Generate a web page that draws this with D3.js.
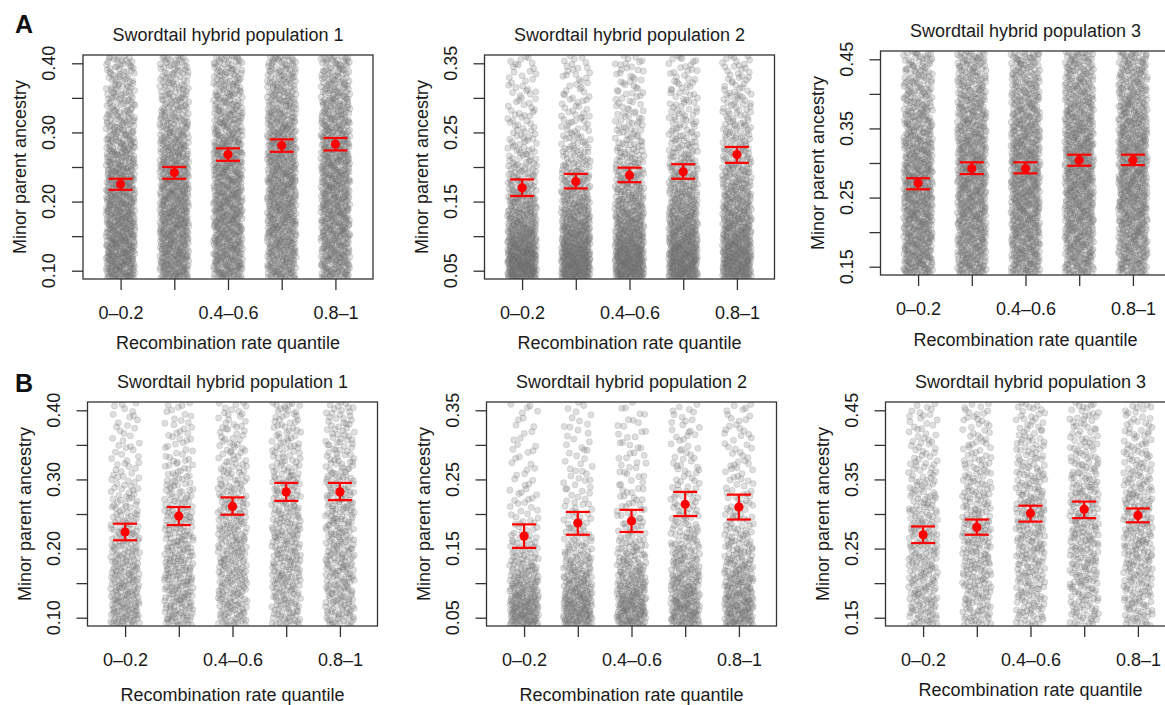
<!DOCTYPE html>
<html>
<head>
<meta charset="utf-8">
<script src="https://cdn.jsdelivr.net/npm/d3@7"></script>
<style>
  html, body { margin: 0; padding: 0; background: #fff; }
  svg { display: block; font-family: "Liberation Sans", Arial, Helvetica, sans-serif; }
</style>
</head>
<body>
<svg id="chart" width="1165" height="705"></svg>
<script>
// ---------------- data ----------------
const categories = ["0–0.2", "0.2–0.4", "0.4–0.6", "0.6–0.8", "0.8–1"];
const shownTickLabels = ["0–0.2", "0.4–0.6", "0.8–1"];
const panelTitles = ["Swordtail hybrid population 1", "Swordtail hybrid population 2", "Swordtail hybrid population 3"];
const rowLetters = ["A", "B"];
const xAxisTitle = "Recombination rate quantile";
const yAxisTitle = "Minor parent ancestry";

// y ticks per population
const yTicksPop1 = [0.10, 0.15, 0.20, 0.25, 0.30, 0.35, 0.40];
const yTicksPop2 = [0.05, 0.10, 0.15, 0.20, 0.25, 0.30, 0.35];
const yTicksPop3 = [0.15, 0.20, 0.25, 0.30, 0.35, 0.40, 0.45];
const yLabelsPop1 = ["0.10", "0.20", "0.30", "0.40"];
const yLabelsPop2 = ["0.05", "0.15", "0.25", "0.35"];
const yLabelsPop3 = ["0.15", "0.25", "0.35", "0.45"];

// means and error bar limits (red)
const meanA1 = [0.225, 0.242, 0.268, 0.281, 0.283];
const lowA1  = [0.217, 0.233, 0.259, 0.272, 0.274];
const highA1 = [0.233, 0.250, 0.277, 0.290, 0.292];
const meanA2 = [0.170, 0.179, 0.188, 0.193, 0.218];
const lowA2  = [0.158, 0.169, 0.178, 0.183, 0.206];
const highA2 = [0.182, 0.190, 0.199, 0.204, 0.229];
const meanA3 = [0.271, 0.292, 0.292, 0.304, 0.304];
const lowA3  = [0.262, 0.284, 0.285, 0.296, 0.297];
const highA3 = [0.278, 0.301, 0.301, 0.312, 0.312];
const meanB1 = [0.224, 0.247, 0.261, 0.282, 0.282];
const lowB1  = [0.212, 0.234, 0.249, 0.269, 0.270];
const highB1 = [0.236, 0.260, 0.274, 0.295, 0.295];
const meanB2 = [0.168, 0.187, 0.190, 0.214, 0.210];
const lowB2  = [0.151, 0.170, 0.174, 0.197, 0.192];
const highB2 = [0.185, 0.203, 0.206, 0.232, 0.228];
const meanB3 = [0.270, 0.281, 0.301, 0.307, 0.298];
const lowB3  = [0.258, 0.270, 0.289, 0.294, 0.288];
const highB3 = [0.282, 0.292, 0.312, 0.318, 0.308];

// density of grey points: approx. counts per category in 6 equal y-bins of the plotted range (bottom -> top)
const densityA1 = [[165,155,135,105,72,58],[150,150,135,112,78,62],[138,142,135,118,90,70],[125,135,135,125,98,76],[125,132,135,125,100,76]];
const densityA2 = [[235,140,78,42,28,22],[228,145,84,48,30,24],[220,145,88,52,34,27],[212,145,92,56,38,28],[200,140,98,62,45,31]];
const densityA3 = [[128,135,135,112,85,64],[120,128,135,120,98,78],[120,128,135,120,98,78],[112,125,135,128,105,84],[112,125,135,128,105,84]];
const densityB1 = [[90,75,55,35,20,15],[75,75,60,45,28,20],[70,70,65,50,35,28],[65,70,65,55,40,35],[65,70,65,55,40,35]];
const densityB2 = [[140,72,30,18,14,12],[135,76,35,22,16,14],[132,80,38,24,18,15],[122,80,45,30,22,18],[122,80,45,28,22,18]];
const densityB3 = [[60,60,55,45,30,22],[55,60,60,50,32,25],[50,58,62,55,40,30],[50,58,62,55,42,32],[52,60,62,55,38,28]];

// ---------------- layout ----------------
const panels = [
  {row:0, col:0, left:83,    top:55,  ticks:yTicksPop1, labels:yLabelsPop1, mean:meanA1, low:lowA1, high:highA1, dens:densityA1, xlabDy:64},
  {row:0, col:1, left:484.5, top:55,  ticks:yTicksPop2, labels:yLabelsPop2, mean:meanA2, low:lowA2, high:highA2, dens:densityA2, xlabDy:64},
  {row:0, col:2, left:880.5, top:51,  ticks:yTicksPop3, labels:yLabelsPop3, mean:meanA3, low:lowA3, high:highA3, dens:densityA3, xlabDy:65},
  {row:1, col:0, left:87.5,  top:402, ticks:yTicksPop1, labels:yLabelsPop1, mean:meanB1, low:lowB1, high:highB1, dens:densityB1, xlabDy:69},
  {row:1, col:1, left:486.5, top:402, ticks:yTicksPop2, labels:yLabelsPop2, mean:meanB2, low:lowB2, high:highB2, dens:densityB2, xlabDy:69},
  {row:1, col:2, left:885.5, top:402, ticks:yTicksPop3, labels:yLabelsPop3, mean:meanB3, low:lowB3, high:highB3, dens:densityB3, xlabDy:64}
];
const W = 290, H = 224;
const svg = d3.select("#chart");
const fontSize = 18;

// quasi-uniform (Halton) layout helper for the jitter (positions only, not data)
function vdc(n, base) { let q = 0, bk = 1 / base; while (n > 0) { q += (n % base) * bk; n = Math.floor(n / base); bk /= base; } return q; }

panels.forEach((p, pi) => {
  const lo = d3.min(p.ticks), hi = d3.max(p.ticks);
  const pad = (hi - lo) * 0.04;
  const x = d3.scaleLinear().domain([0.3, 5.7]).range([0, W]);
  const y = d3.scaleLinear().domain([lo - pad, hi + pad]).range([H, 0]);
  const g = svg.append("g").attr("transform", `translate(${p.left},${p.top})`);

  const clipId = "clip" + pi;
  g.append("clipPath").attr("id", clipId).append("rect").attr("width", W).attr("height", H);

  // grey jittered points, distributed following the bin counts (smoothed profile)
  const pts = [];
  const [d0, d1] = y.domain();
  p.dens.forEach((counts, ci) => {
    const nb = counts.length, N = d3.sum(counts);
    const steps = nb * 20;
    const dAt = t => { // piecewise-linear density through bin centres
      const c = t - 0.5; const i0 = Math.max(0, Math.min(nb - 1, Math.floor(c))); const i1 = Math.min(nb - 1, i0 + 1);
      const f = Math.max(0, Math.min(1, c - i0)); return counts[i0] * (1 - f) + counts[i1] * f;
    };
    const cdf = [0];
    for (let k = 1; k <= steps; k++) cdf.push(cdf[k - 1] + dAt((k - 0.5) * nb / steps));
    const tot = cdf[steps];
    const inv = v => { const target = v * tot; let k = d3.bisectLeft(cdf, target); k = Math.max(1, Math.min(steps, k));
      const f = (target - cdf[k - 1]) / (cdf[k] - cdf[k - 1] || 1); return ((k - 1 + f) / steps) * nb; };
    const off = 20 + pi * 409 + ci * 137;
    for (let i = 0; i < N; i++) {
      const u = vdc(i + off, 3);
      const v = vdc(i + off, 2);
      pts.push({xv: ci + 1 + (u * 2 - 1) * 0.27, yv: d0 + inv(v) * (d1 - d0) / nb});
    }
  });
  g.append("g").attr("clip-path", `url(#${clipId})`)
    .selectAll("circle").data(pts).join("circle")
    .attr("cx", d => x(d.xv)).attr("cy", d => y(d.yv)).attr("r", 3.1)
    .attr("fill", "rgba(105,105,105,0.22)")
    .attr("stroke", "rgba(105,105,105,0.22)").attr("stroke-width", 0.8);

  // box
  g.append("rect").attr("width", W).attr("height", H)
    .attr("fill", "none").attr("stroke", "#333").attr("stroke-width", 1.3);

  // axes
  const xAxis = d3.axisBottom(x).tickValues([1, 2, 3, 4, 5])
    .tickSize(11).tickPadding(16)
    .tickFormat(d => shownTickLabels.includes(categories[d - 1]) ? categories[d - 1] : "");
  const xa = g.append("g").attr("transform", `translate(0,${H})`).call(xAxis);
  const yAxis = d3.axisLeft(y).tickValues(p.ticks).tickSize(11).tickFormat("");
  const ya = g.append("g").call(yAxis);
  [xa, ya].forEach(a => {
    a.select(".domain").remove();
    a.selectAll(".tick line").attr("stroke", "#333").attr("stroke-width", 1.3);
  });
  xa.selectAll(".tick text").attr("font-size", fontSize).attr("fill", "#1a1a1a")
    .attr("font-family", "Liberation Sans, Arial, sans-serif");

  // rotated y tick labels
  g.selectAll(".ylab").data(p.labels).join("text")
    .attr("transform", d => `translate(-34,${y(+d)}) rotate(-90)`)
    .attr("text-anchor", "middle").attr("dy", "0.36em")
    .attr("font-size", fontSize).attr("fill", "#1a1a1a").text(d => d);

  // axis titles
  g.append("text").attr("transform", `translate(-63,${H / 2}) rotate(-90)`)
    .attr("text-anchor", "middle").attr("dy", "0.36em")
    .attr("font-size", fontSize).attr("fill", "#1a1a1a").text(yAxisTitle);
  g.append("text").attr("x", W / 2).attr("y", H + p.xlabDy).attr("dy", "0.36em")
    .attr("text-anchor", "middle").attr("font-size", fontSize).attr("fill", "#1a1a1a").text(xAxisTitle);
  g.append("text").attr("x", W / 2).attr("y", -20).attr("dy", "0.36em")
    .attr("text-anchor", "middle").attr("font-size", fontSize).attr("fill", "#1a1a1a").text(panelTitles[p.col]);

  // means with error bars
  const cap = 12;
  const eb = g.append("g").attr("stroke", "#ff0000").attr("stroke-width", 2.2);
  p.mean.forEach((m, ci) => {
    const cx = x(ci + 1);
    eb.append("line").attr("x1", cx).attr("x2", cx).attr("y1", y(p.low[ci])).attr("y2", y(p.high[ci]));
    eb.append("line").attr("x1", cx - cap).attr("x2", cx + cap).attr("y1", y(p.low[ci])).attr("y2", y(p.low[ci]));
    eb.append("line").attr("x1", cx - cap).attr("x2", cx + cap).attr("y1", y(p.high[ci])).attr("y2", y(p.high[ci]));
  });
  g.selectAll(".mean").data(p.mean).join("circle")
    .attr("cx", (d, i) => x(i + 1)).attr("cy", d => y(d)).attr("r", 4.6).attr("fill", "#ff0000");
});

// row letters
svg.selectAll(".letter").data(rowLetters).join("text")
  .attr("x", 15).attr("y", (d, i) => i === 0 ? 33 : 392)
  .attr("font-size", 25).attr("font-weight", "bold").attr("fill", "#111").text(d => d);
</script>
</body>
</html>
